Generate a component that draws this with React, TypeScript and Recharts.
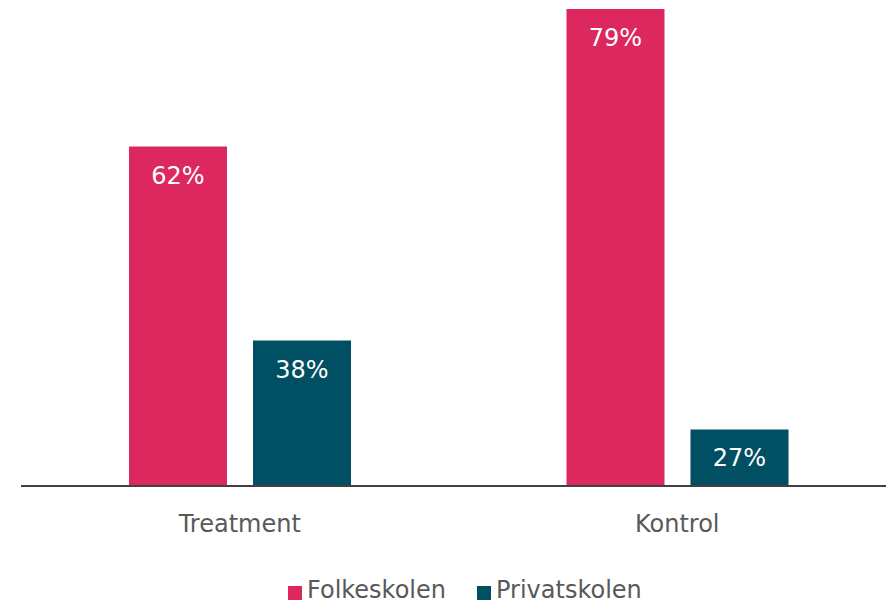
import React from 'react';
import { BarChart, Bar, XAxis, YAxis, LabelList } from 'recharts';

const groups = ['Treatment', 'Kontrol'];
const folkeskolen = [62, 79];
const privatskolen = [38, 27];
const seriesNames = ['Folkeskolen', 'Privatskolen'];
const seriesColors = ['#dc285f', '#004f63'];

const data = groups.map((group, i) => ({
  group,
  folkeskolen: folkeskolen[i],
  privatskolen: privatskolen[i],
}));

const FONT = '"DejaVu Sans", Verdana, sans-serif';
const legendLeft = [288, 477];

const App: React.FC = () => {
  return (
    <div
      style={{
        position: 'absolute',
        left: 0,
        top: 0,
        width: 886,
        height: 605,
        overflow: 'hidden',
        background: '#fff',
      }}
    >
      <BarChart
        width={896}
        height={605}
        data={data}
        margin={{ top: 1, right: 0, left: 21, bottom: 51 }}
        barSize={98}
        barGap={26}
      >
        <XAxis
          dataKey="group"
          axisLine={{ stroke: '#404040', strokeWidth: 2 }}
          tickLine={false}
          tickMargin={23}
          height={68}
          tick={{ fill: '#595959', fontSize: 24, fontFamily: FONT }}
        />
        <YAxis hide domain={[20, 80]} allowDataOverflow />
        <Bar dataKey="folkeskolen" fill={seriesColors[0]} isAnimationActive={false}>
          <LabelList
            dataKey="folkeskolen"
            position="insideTop"
            offset={20}
            formatter={(v: number) => `${v}%`}
            fill="#ffffff"
            style={{ fontSize: 24, fontFamily: FONT }}
          />
        </Bar>
        <Bar dataKey="privatskolen" fill={seriesColors[1]} isAnimationActive={false}>
          <LabelList
            dataKey="privatskolen"
            position="insideTop"
            offset={20}
            formatter={(v: number) => `${v}%`}
            fill="#ffffff"
            style={{ fontSize: 24, fontFamily: FONT }}
          />
        </Bar>
      </BarChart>
      {seriesNames.map((name, i) => (
        <div
          key={name}
          style={{
            position: 'absolute',
            left: legendLeft[i],
            top: 579,
            height: 22,
            display: 'flex',
            alignItems: 'center',
            whiteSpace: 'nowrap',
            fontFamily: FONT,
            fontSize: 24,
            lineHeight: '22px',
            color: '#595959',
          }}
        >
          <span
            style={{
              display: 'inline-block',
              width: 14,
              height: 14,
              background: seriesColors[i],
              marginRight: 5,
              marginTop: 5,
            }}
          />
          <span>{name}</span>
        </div>
      ))}
    </div>
  );
};

export default App;
